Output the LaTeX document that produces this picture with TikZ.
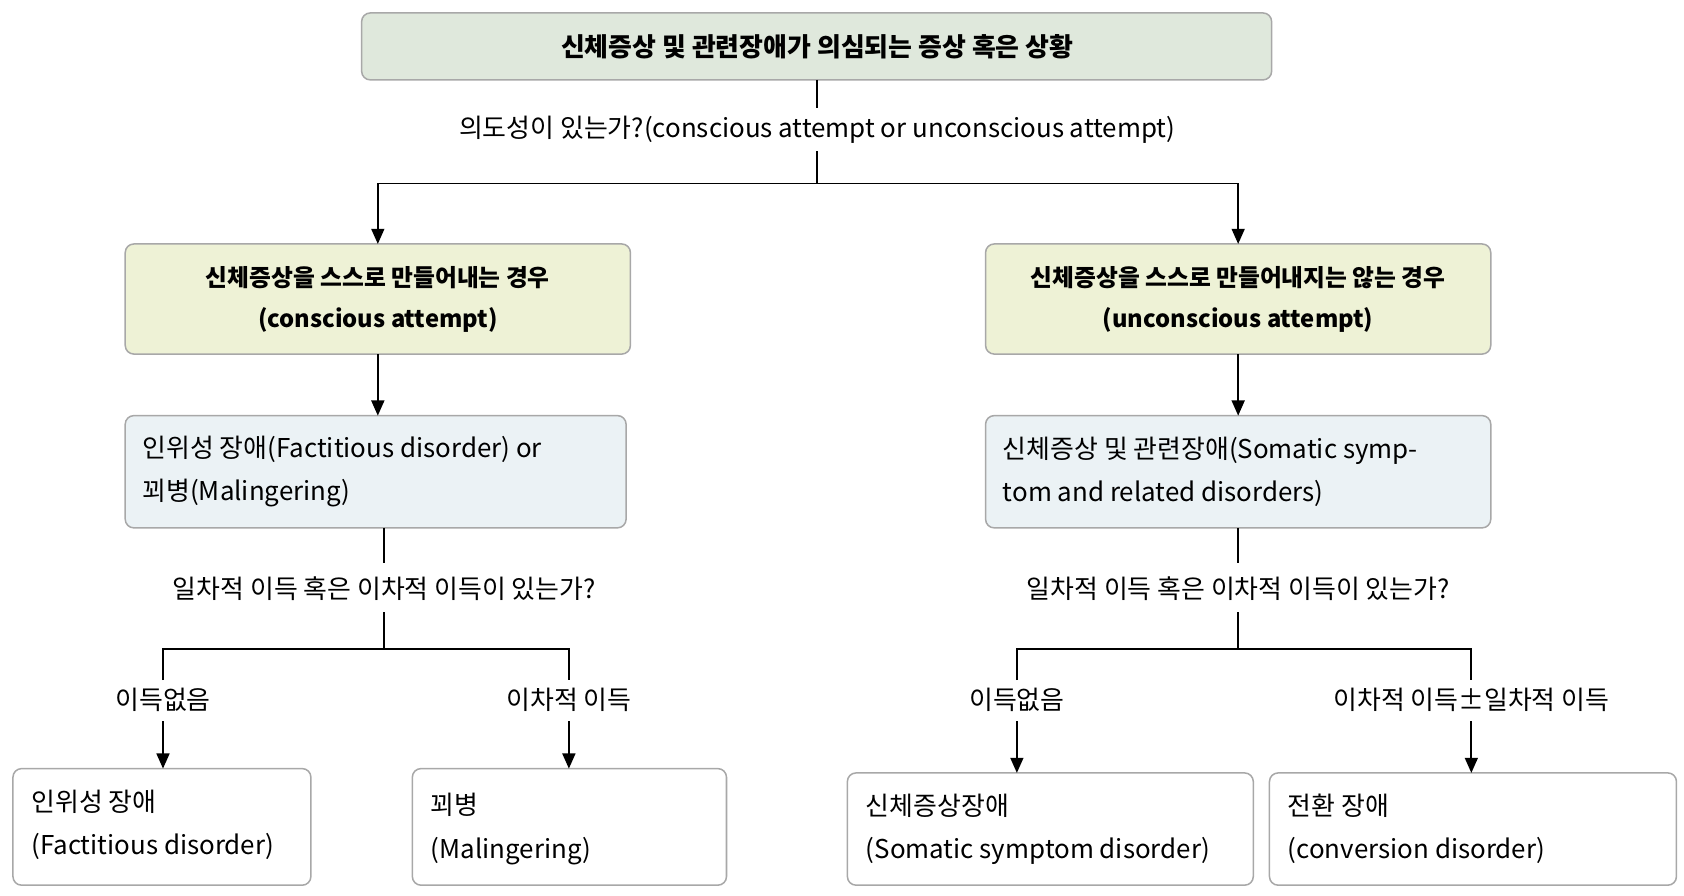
\documentclass[tikz,border=0pt]{standalone}
\usepackage{fontspec}
\setmainfont{Noto Sans CJK KR}
\usetikzlibrary{arrows.meta}
\definecolor{topc}{HTML}{DFE8DC}
\definecolor{lvl1}{HTML}{EEF2D6}
\definecolor{lvl2}{HTML}{EBF2F5}
\definecolor{bord}{HTML}{A8A8A8}
\begin{document}
\begin{tikzpicture}[x=0.5pt,y=-0.5pt,
  box/.style={draw=bord,line width=0.7pt,rounded corners=4pt},
  ln/.style={line width=0.8pt},
  ar/.style={ln,-{Triangle[length=7pt,width=6pt]}},
  lab/.style={font=\fontsize{12}{14}\selectfont,inner sep=1pt},
  txt/.style={font=\fontsize{12}{20}\selectfont,align=left,anchor=west},
  btxt/.style={font=\fontsize{11}{19}\selectfont\bfseries,align=center}]
\useasboundingbox (0,0) rectangle (1560,830);
% boxes
\draw[box,fill=topc] (335,12) rectangle (1178,74);
\node[btxt,font=\fontsize{12}{14}\selectfont\bfseries] (top) at (757,43) {신체증상 및 관련장애가 의심되는 증상 혹은 상황};
\draw[box,fill=lvl1] (116,226) rectangle (584,328);
\node[btxt] (a) at (350,277) {신체증상을 스스로 만들어내는 경우\\(conscious attempt)};
\draw[box,fill=lvl1] (913,226) rectangle (1381,328);
\node[btxt] (b) at (1147,277) {신체증상을 스스로 만들어내지는 않는 경우\\(unconscious attempt)};
\draw[box,fill=lvl2] (116,385) rectangle (580,489);
\node[txt] (c) at (125,437) {인위성 장애(Factitious disorder) or\\꾀병(Malingering)};
\draw[box,fill=lvl2] (913,385) rectangle (1381,489);
\node[txt] (d) at (922,437) {신체증상 및 관련장애(Somatic symp-\\tom and related disorders)};
\draw[box,fill=white] (12,712) rectangle (288,820);
\node[txt] (e) at (22,764) {인위성 장애\\(Factitious disorder)};
\draw[box,fill=white] (382,712) rectangle (673,820);
\node[txt] (f) at (392,768) {꾀병\\(Malingering)};
\draw[box,fill=white] (785,716) rectangle (1161,820);
\node[txt] (g) at (795,768) {신체증상장애\\(Somatic symptom disorder)};
\draw[box,fill=white] (1176,716) rectangle (1553,820);
\node[txt] (h) at (1186,768) {전환 장애\\(conversion disorder)};
% labels
\node[lab] (q1) at (757,120) {의도성이 있는가?(conscious attempt or unconscious attempt)};
\node[lab] (q2) at (356,545) {일차적 이득 혹은 이차적 이득이 있는가?};
\node[lab] (q3) at (1147,545) {일차적 이득 혹은 이차적 이득이 있는가?};
\node[lab] (l1) at (151,648) {이득없음};
\node[lab] (l2) at (527,648) {이차적 이득};
\node[lab] (l3) at (942,648) {이득없음};
\node[lab] (l4) at (1363,648) {이차적 이득±일차적 이득};
% connectors
\coordinate (t0) at (757,74);
\draw[ln] (t0) -- (757,100);
\draw[ln] (757,140) -- (757,170);
\draw[ar] (757,170) -| (350,226);
\draw[ar] (757,170) -| (1147,226);
\draw[ar] (350,328) -- (350,385);
\draw[ar] (1147,328) -- (1147,385);
\draw[ln] (356,489) -- (356,522);
\draw[ln] (356,567) -- (356,601);
\draw[ln] (151,630) |- (527,601) -- (527,630);
\draw[ar] (151,668) -- (151,712);
\draw[ar] (527,668) -- (527,712);
\draw[ln] (1147,489) -- (1147,522);
\draw[ln] (1147,567) -- (1147,601);
\draw[ln] (942,630) |- (1363,601) -- (1363,630);
\draw[ar] (942,668) -- (942,716);
\draw[ar] (1363,668) -- (1363,716);
\end{tikzpicture}
\end{document}
